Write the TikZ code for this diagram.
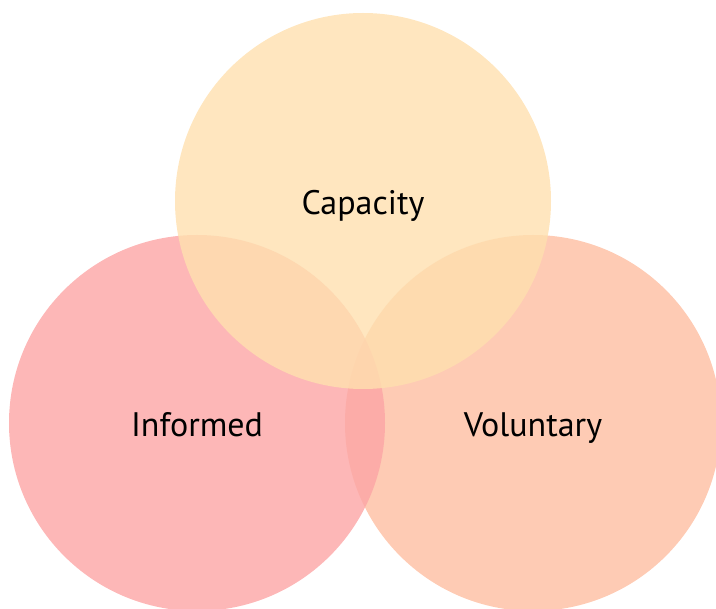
\documentclass[tikz,border=0pt]{standalone}
\usepackage{fontspec}
\setsansfont{PT Sans}
\definecolor{capcol}{RGB}{255,224,175}
\definecolor{infcol}{RGB}{252,165,165}
\definecolor{volcol}{RGB}{254,190,161}
\tikzset{
  setc/.style={circle, minimum size=376pt, inner sep=0pt, fill opacity=0.8,
    text opacity=1, text height=28pt, text depth=0pt,
    font=\sffamily\fontsize{34}{38}\selectfont}
}
\begin{document}
\begin{tikzpicture}[x=1pt, y=-1pt]
  % page frame, the outer circles run off the right and bottom edges
  \clip (0,0) rectangle (716,609);
  \useasboundingbox (0,0) rectangle (716,609);
  % three overlapping sets, drawn back to front
  \node[setc, fill=volcol] (voluntary) at (533,423) {Voluntary};
  \node[setc, fill=infcol] (informed)  at (197,423) {Informed};
  \node[setc, fill=capcol] (capacity)  at (363,201) {Capacity};
\end{tikzpicture}
\end{document}
